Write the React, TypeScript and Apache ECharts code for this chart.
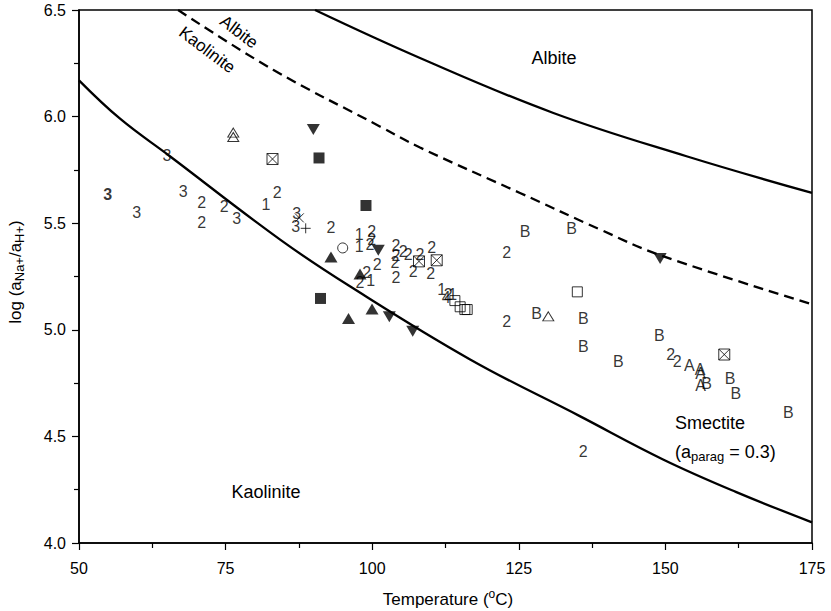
import React, { useEffect, useRef } from "react";
import * as echarts from "echarts";

const FONT = "'Liberation Sans', Arial, Helvetica, sans-serif";

// Boundary curves (Temperature °C, log(aNa+/aH+))
const lowerBoundary = [[50, 6.17], [57, 5.99], [65.5, 5.814], [84.3, 5.423], [96.2, 5.204], [116.7, 4.861], [135.4, 4.595], [149.6, 4.392], [162, 4.24], [175, 4.097]];
const upperBoundary = [[90.25, 6.5], [108.15, 6.275], [130.9, 6.017], [153.6, 5.814], [175, 5.642]];
const dashedBoundary = [[66.9, 6.5], [83.1, 6.22], [101.3, 5.954], [108.15, 5.855], [125.2, 5.642], [138.9, 5.47], [149.1, 5.35], [175, 5.12]];

// Text-marker samples
const labels1 = [[81.9, 5.587], [97.8, 5.447], [97.8, 5.392], [99.74, 5.232], [111.85, 5.189], [113.73, 5.165]];
const labels2 = [[70.92, 5.595], [74.78, 5.579], [70.92, 5.504], [83.82, 5.645], [92.97, 5.478], [99.92, 5.462], [99.92, 5.423], [99.62, 5.4], [104.06, 5.395], [105.3, 5.368], [104.06, 5.348], [106.16, 5.353], [103.89, 5.314], [108.15, 5.353], [110.15, 5.384], [107.01, 5.275], [109.98, 5.264], [104.06, 5.244], [100.87, 5.306], [99.06, 5.267], [97.92, 5.22], [112.98, 5.165], [122.94, 5.361], [122.94, 5.04], [136.0, 4.431], [150.9, 4.884], [152.03, 4.85]];
const labels3 = [[65.0, 5.817], [59.84, 5.548], [67.79, 5.65], [76.89, 5.522], [87.12, 5.545], [86.95, 5.483]];
const labels3Bold = [[54.89, 5.634]];
const labels4 = [[112.6, 5.15]];
const labelsA = [[154.08, 4.832], [155.9, 4.814], [156.02, 4.795], [156.02, 4.739]];
const labelsB = [[126.06, 5.462], [134.02, 5.473], [128.05, 5.075], [136.0, 5.051], [136.0, 4.923], [141.97, 4.853], [148.96, 4.973], [157.04, 4.748], [161.02, 4.771], [161.99, 4.701], [170.96, 4.611]];

// Symbol-marker samples
const filledUp = [[92.97, 5.342], [97.92, 5.262], [99.97, 5.098], [95.96, 5.053]];
const filledDown = [[89.96, 5.939], [101.04, 5.373], [102.92, 5.061], [106.91, 4.993], [149.1, 5.334]];
const filledSquare = [[90.93, 5.806], [98.94, 5.583], [91.18, 5.147]];
const openSquare = [[134.98, 5.178], [114.1, 5.137], [115.0, 5.108], [115.8, 5.095], [116.2, 5.095]];
const crossedSquare = [[83.0, 5.801], [107.98, 5.321], [111.0, 5.326], [160.04, 4.884]];
const openTriangle = [[76.31, 5.925], [76.31, 5.904], [130.03, 5.063]];
const openCircle = [[94.97, 5.384]];
const plusMarks = [[88.66, 5.476]];
const crossMarks = [[87.57, 5.525]];

const textSeries = (data: number[][], ch: string, bold = false) => ({
  type: "scatter",
  data,
  symbol: "circle",
  symbolSize: 1,
  itemStyle: { color: "rgba(0,0,0,0)" },
  label: {
    show: true,
    position: "inside",
    formatter: ch,
    fontSize: 16,
    fontFamily: FONT,
    fontWeight: bold ? "bold" : "normal",
    color: "#000",
    textBorderWidth: 0,
  },
  emphasis: { disabled: true },
  silent: true,
  z: 4,
});

const symSeries = (data: number[][], symbol: string, size: any, filled: boolean, rotate = 0) => ({
  type: "scatter",
  data,
  symbol,
  symbolSize: size,
  symbolRotate: rotate,
  itemStyle: filled
    ? { color: "#000" }
    : { color: "rgba(0,0,0,0)", borderColor: "#000", borderWidth: 1 },
  emphasis: { disabled: true },
  silent: true,
  z: 5,
});

const lineSeries = (data: number[][], dashed: boolean) => ({
  type: "line",
  data,
  smooth: 0.4,
  symbol: "none",
  clip: true,
  lineStyle: { color: "#000", width: 2.3, type: dashed ? [10, 6] : "solid" },
  silent: true,
  z: 2,
});

export default function App() {
  const ref = useRef<HTMLDivElement>(null);
  useEffect(() => {
    document.body.style.margin = "0";
    const chart = echarts.init(ref.current!, null, { renderer: "svg" });
    const axisCommon = {
      type: "value",
      axisLine: { show: true, lineStyle: { color: "#000", width: 1.5 } },
      axisTick: { show: true, inside: false, length: 7, lineStyle: { color: "#000", width: 1.2 } },
      minorTick: { show: true, splitNumber: 2, length: 5, lineStyle: { color: "#000", width: 1.2 } },
      splitLine: { show: false },
      minorSplitLine: { show: false },
    };
    chart.setOption({
      animation: false,
      backgroundColor: "#fff",
      grid: { left: 79, right: 19, top: 10, bottom: 68, show: true, borderColor: "#000", borderWidth: 1.5, backgroundColor: "transparent" },
      xAxis: {
        ...axisCommon,
        min: 50,
        max: 175,
        interval: 25,
        axisLabel: { fontSize: 16, color: "#000", fontFamily: FONT, margin: 17 },
      },
      yAxis: {
        ...axisCommon,
        min: 4,
        max: 6.5,
        interval: 0.5,
        axisLabel: { fontSize: 16, color: "#000", fontFamily: FONT, margin: 13, formatter: (v: number) => v.toFixed(1) },
      },
      series: [
        lineSeries(lowerBoundary, false),
        lineSeries(upperBoundary, false),
        lineSeries(dashedBoundary, true),
        textSeries(labels1, "1"),
        textSeries(labels2, "2"),
        textSeries(labels3, "3"),
        textSeries(labels3Bold, "3", true),
        textSeries(labels4, "4"),
        textSeries(labelsA, "A"),
        textSeries(labelsB, "B"),
        symSeries(filledUp, "triangle", [13, 11], true),
        symSeries(filledDown, "triangle", [13, 11], true, 180),
        symSeries(filledSquare, "rect", 11, true),
        symSeries(openSquare, "rect", 10, false),
        symSeries(crossedSquare, "path://M0,0H10V10H0ZM0,0L10,10M10,0L0,10", 11, false),
        symSeries(openTriangle, "triangle", [11, 9], false),
        symSeries(openCircle, "circle", 10, false),
        symSeries(plusMarks, "path://M5,0V10M0,5H10", 10, false),
        symSeries(crossMarks, "path://M0,0L10,10M10,0L0,10", 9, false),
      ],
      graphic: [
        {
          type: "text",
          x: 15,
          y: 272,
          rotation: Math.PI / 2,
          style: {
            text: "{n|log (a}{s|Na+}{n|/a}{s|H+}{n|)}",
            align: "center",
            verticalAlign: "middle",
            fill: "#000",
            rich: {
              n: { fontSize: 17, lineHeight: 22, fontFamily: FONT, fill: "#000" },
              s: { fontSize: 13, lineHeight: 13, fontFamily: FONT, verticalAlign: "bottom", fill: "#000" },
            },
          },
        },
        {
          type: "text",
          x: 448,
          y: 599,
          style: {
            text: "{n|Temperature (}{p|o}{n|C)}",
            align: "center",
            verticalAlign: "middle",
            fill: "#000",
            rich: {
              n: { fontSize: 17, lineHeight: 22, fontFamily: FONT, fill: "#000" },
              p: { fontSize: 12, lineHeight: 12, fontFamily: FONT, verticalAlign: "top", fill: "#000" },
            },
          },
        },
        {
          type: "text",
          x: 239,
          y: 32,
          rotation: (-37 * Math.PI) / 180,
          style: { text: "Albite", fontSize: 17, fontFamily: FONT, fill: "#000", align: "center", verticalAlign: "middle" },
        },
        {
          type: "text",
          x: 207,
          y: 50,
          rotation: (-37 * Math.PI) / 180,
          style: { text: "Kaolinite", fontSize: 17, fontFamily: FONT, fill: "#000", align: "center", verticalAlign: "middle" },
        },
        {
          type: "text",
          x: 554,
          y: 58,
          style: { text: "Albite", fontSize: 18, fontFamily: FONT, fill: "#000", align: "center", verticalAlign: "middle" },
        },
        {
          type: "text",
          x: 266,
          y: 492,
          style: { text: "Kaolinite", fontSize: 18, fontFamily: FONT, fill: "#000", align: "center", verticalAlign: "middle" },
        },
        {
          type: "text",
          x: 675,
          y: 423,
          style: { text: "Smectite", fontSize: 18, fontFamily: FONT, fill: "#000", align: "left", verticalAlign: "middle" },
        },
        {
          type: "text",
          x: 675,
          y: 452,
          style: {
            text: "{n|(a}{s|parag}{n| = 0.3)}",
            align: "left",
            verticalAlign: "middle",
            fill: "#000",
            rich: {
              n: { fontSize: 18, lineHeight: 22, fontFamily: FONT, fill: "#000" },
              s: { fontSize: 13, lineHeight: 13, fontFamily: FONT, verticalAlign: "bottom", fill: "#000" },
            },
          },
        },
      ],
    });
    return () => chart.dispose();
  }, []);
  return <div ref={ref} style={{ width: 831, height: 611 }} />;
}
